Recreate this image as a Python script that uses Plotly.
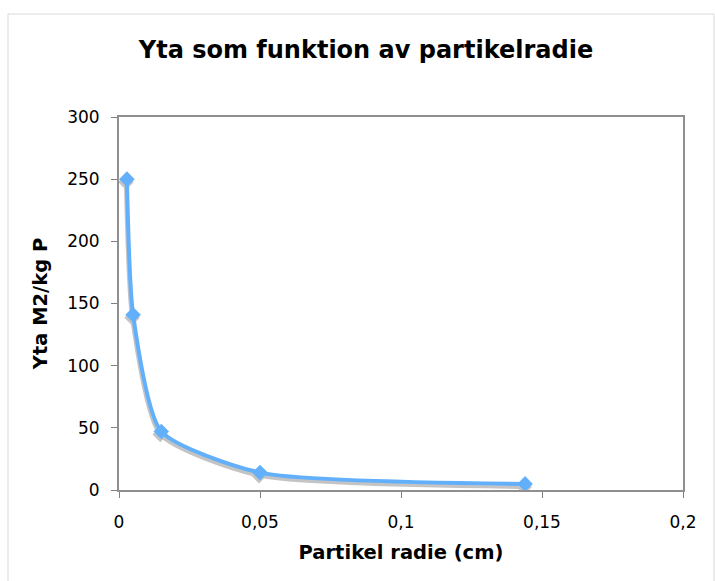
import plotly.graph_objects as go

radius_cm = [0.0028, 0.005, 0.015, 0.05, 0.144]
area_m2_per_kg = [250, 141, 47, 14, 4.9]

x_ticks = [0, 0.05, 0.1, 0.15, 0.2]
y_ticks = [0, 50, 100, 150, 200, 250, 300]

W, H = 715, 581
L, R, T, B = 119, 32, 117, 91
pw, ph = W - L - R, H - T - B
xr = [0, 0.2]
yr = [0, 300]
sx = 1 * (xr[1] - xr[0]) / pw   # shift shadow 1px left
sy = 3 * (yr[1] - yr[0]) / ph   # shift shadow 3px down

blue = "#62b0fb"
shadow = "#c4c4c4"
smooth = 0.6

fig = go.Figure()
# shadow on hidden base axes (shifted ranges)
fig.add_trace(go.Scatter(
    x=radius_cm, y=area_m2_per_kg, xaxis="x", yaxis="y",
    mode="lines+markers", line=dict(color=shadow, width=4, shape="spline", smoothing=smooth),
    marker=dict(symbol="diamond", size=12, color=shadow), showlegend=False, hoverinfo="skip"))
# main series on visible overlay axes
fig.add_trace(go.Scatter(
    x=radius_cm, y=area_m2_per_kg, xaxis="x2", yaxis="y2",
    mode="lines+markers", line=dict(color=blue, width=4, shape="spline", smoothing=smooth),
    marker=dict(symbol="diamond", size=12, color=blue), showlegend=False))

axis_font = dict(family="DejaVu Sans", size=17, color="#000000")
title_font = dict(family="DejaVu Sans", size=19.5, color="#000000", weight="bold")

fig.update_layout(
    width=W, height=H,
    margin=dict(l=L, r=R, t=T, b=B),
    paper_bgcolor="white", plot_bgcolor="white",
    separators=", ",
    title=dict(text="Yta som funktion av partikelradie", x=366 / W, xanchor="center",
               y=1 - 50 / H, yanchor="middle",
               font=dict(family="DejaVu Sans", size=24, color="#000000", weight="bold")),
    xaxis=dict(range=[xr[0] + sx, xr[1] + sx], visible=False, fixedrange=True),
    yaxis=dict(range=[yr[0] + sy, yr[1] + sy], visible=False, fixedrange=True),
    xaxis2=dict(range=xr, overlaying="x", side="bottom", tickvals=x_ticks, ticks="outside",
                ticklen=6, tickcolor="#808080",
                showline=True, mirror=True, linecolor="#8f8f8f", linewidth=2,
                showgrid=False, zeroline=False, tickfont=axis_font, ticklabelstandoff=10,
                title=dict(text="Partikel radie (cm)", font=title_font, standoff=14)),
    yaxis2=dict(range=yr, overlaying="y", side="left", tickvals=y_ticks, ticks="outside",
                ticklen=6, tickcolor="#808080",
                showline=True, mirror=True, linecolor="#8f8f8f", linewidth=2,
                showgrid=False, zeroline=False, tickfont=axis_font, ticklabelstandoff=8,
                title=dict(text="Yta M2/kg P", font=title_font, standoff=14)),
    shapes=[dict(type="rect", xref="paper", yref="paper",
                 x0=(8 - L) / pw, x1=(714 - L) / pw,
                 y0=(H - B - 600) / ph, y1=(H - B - 14) / ph,
                 line=dict(color="#d9d9d9", width=1), layer="below")],
)

fig.write_html("out.html", config={"displayModeBar": False},
               post_script="document.body.style.margin='0';document.body.style.overflow='hidden';")
